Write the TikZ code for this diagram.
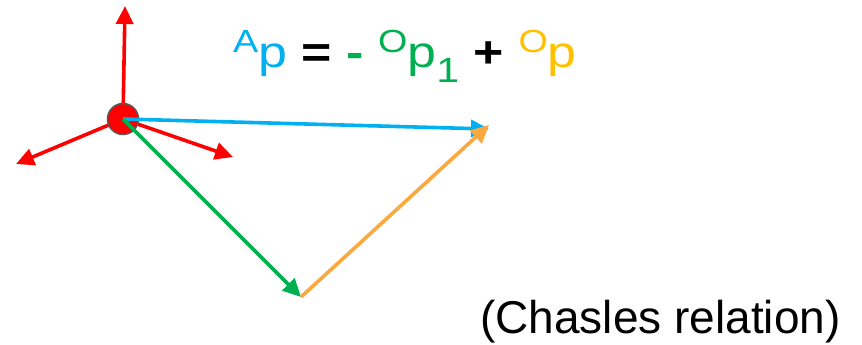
\documentclass[tikz,border=0pt]{standalone}
\usepackage{fontspec}
\setmainfont{Liberation Sans}
\usepackage{tikz}
\usetikzlibrary{arrows.meta}
\definecolor{RELblue}{HTML}{00B0F0}
\definecolor{RELgreen}{HTML}{00B050}
\definecolor{RELyellow}{HTML}{FFC000}
\definecolor{RELorange}{HTML}{FBA93F}
\definecolor{RELred}{HTML}{FF0000}
\definecolor{RELrim}{HTML}{595959}
\newcommand{\eqfont}{\fontsize{44}{52}\selectfont\addfontfeature{FakeStretch=1.18}}
\newcommand{\upidx}[1]{\raisebox{14pt}{\fontsize{32}{32}\selectfont #1}}
\newcommand{\downidx}[1]{\raisebox{-15pt}{\fontsize{35}{35}\selectfont #1}}
\tikzset{vecarr/.style={-{Triangle[length=18pt,width=17pt]},line width=3.6pt},
 axisarr/.style={vecarr,draw=RELred},
 framedot/.style={circle,fill=RELred,draw=RELrim,line width=1.5pt,minimum size=31pt,inner sep=0pt}}
\begin{document}
\begin{tikzpicture}[x=1pt,y=-1pt]
\useasboundingbox (0,0) rectangle (862,345);
\coordinate (zaxis) at (125,6);
\coordinate (xaxis) at (16,164);
\coordinate (yaxis) at (233,157);
\coordinate (ptip) at (489,129);
\coordinate (pone) at (301,297);
\draw[axisarr] (123,119) -- (zaxis);
\draw[axisarr] (123,119) -- (xaxis);
\draw[axisarr] (123,119) -- (yaxis);
\node[framedot] (orig) at (123,119) {};
\draw[vecarr,draw=RELblue] (orig.center) -- (ptip);
\draw[vecarr,draw=RELgreen] (orig.center) -- (pone);
\draw[vecarr,draw=RELorange] (pone) -- ([yshift=4pt]ptip);
\node[anchor=base west,inner sep=0pt,font=\eqfont] (relation) at (233,67)
 {\textcolor{RELblue}{\upidx{A}p} \textbf{=} \textcolor{RELgreen}{\textbf{-} \upidx{O}p\downidx{1}} \textbf{+} \textcolor{RELyellow}{\upidx{O}p}};
\node[anchor=base west,inner sep=0pt,font=\fontsize{46}{54}\selectfont] (chasles) at (480,333) {(Chasles relation)};
\end{tikzpicture}
\end{document}
